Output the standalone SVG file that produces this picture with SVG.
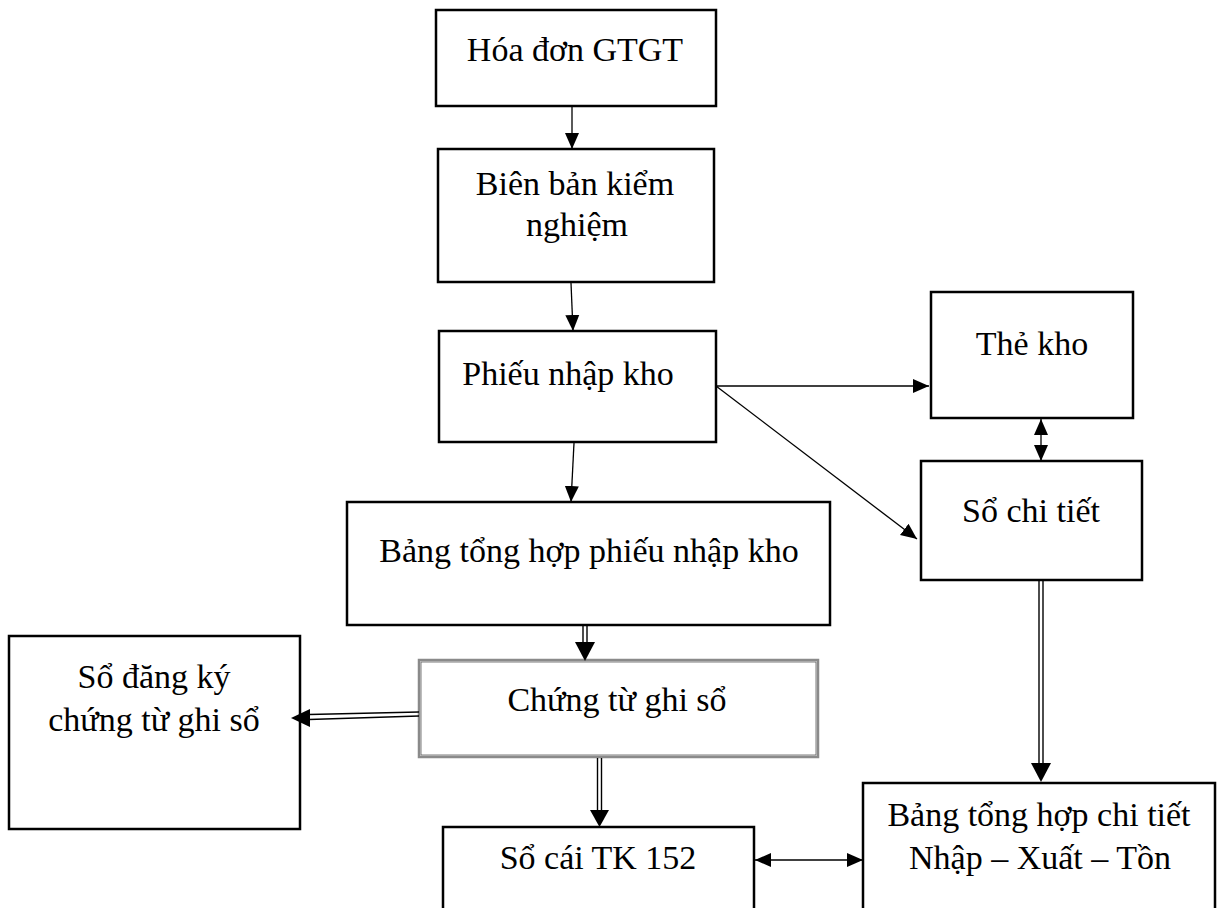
<svg xmlns="http://www.w3.org/2000/svg" width="1220" height="908" viewBox="0 0 1220 908">
<defs>
<style>
.box{fill:#fff;stroke:#000;stroke-width:2.5}
.t{font-family:"Liberation Serif","Times New Roman",serif;font-size:34px;fill:#000;text-anchor:middle}
.ln{stroke:#000;stroke-width:1.3;fill:none}
.dl{stroke:#000;stroke-width:1.4;fill:none}
.hd{fill:#000;stroke:none}
</style>
<marker id="ah" markerUnits="userSpaceOnUse" markerWidth="18" markerHeight="16" refX="16" refY="7" orient="auto" viewBox="0 0 18 14">
<path d="M0,0 L16,7 L0,14 Z" fill="#000"/>
</marker>
<marker id="as" markerUnits="userSpaceOnUse" markerWidth="18" markerHeight="16" refX="0" refY="7" orient="auto" viewBox="0 0 18 14">
<path d="M16,0 L0,7 L16,14 Z" fill="#000"/>
</marker>
</defs>
<rect width="1220" height="908" fill="#fff"/>

<g id="hoa-don">
<rect class="box" x="436" y="10" width="280" height="96"/>
<text class="t" x="575" y="61">Hóa đơn GTGT</text>
</g>
<g id="bien-ban">
<rect class="box" x="438" y="149" width="276" height="133"/>
<text class="t" x="575" y="195">Biên bản kiểm</text>
<text class="t" x="577" y="236">nghiệm</text>
</g>
<g id="phieu-nhap">
<rect class="box" x="439" y="331" width="277" height="111"/>
<text class="t" x="568" y="385">Phiếu nhập kho</text>
</g>
<g id="the-kho">
<rect class="box" x="931" y="292" width="202" height="126"/>
<text class="t" x="1032" y="355">Thẻ kho</text>
</g>
<g id="so-chi-tiet">
<rect class="box" x="921" y="461" width="221" height="119"/>
<text class="t" x="1031" y="522">Sổ chi tiết</text>
</g>
<g id="bang-tong-hop-pnk">
<rect class="box" x="347" y="502" width="483" height="123"/>
<text class="t" x="589" y="562">Bảng tổng hợp phiếu nhập kho</text>
</g>
<g id="chung-tu">
<rect x="419" y="660" width="399" height="97" fill="#fff" stroke="#8a8a8a" stroke-width="2.5"/>
<rect x="421" y="662" width="395" height="93" fill="none" stroke="#444" stroke-width="0.7"/>
<text class="t" x="617" y="711">Chứng từ ghi sổ</text>
</g>
<g id="so-dang-ky">
<rect class="box" x="9" y="636" width="291" height="193"/>
<text class="t" x="154" y="688">Sổ đăng ký</text>
<text class="t" x="154" y="731">chứng từ ghi sổ</text>
</g>
<g id="so-cai">
<path class="box" d="M443,915 L443,827 L754,827 L754,915"/>
<text class="t" x="598" y="869">Sổ cái TK 152</text>
</g>
<g id="bang-tong-hop-ct">
<path class="box" d="M863,915 L863,783 L1215,783 L1215,915"/>
<text class="t" x="1039" y="826">Bảng tổng hợp chi tiết</text>
<text class="t" x="1040" y="869">Nhập – Xuất – Tồn</text>
</g>

<g id="connectors">
<line class="ln" x1="572" y1="106" x2="572" y2="149" marker-end="url(#ah)"/>
<line class="ln" x1="571" y1="283" x2="573" y2="331" marker-end="url(#ah)"/>
<line class="ln" x1="574" y1="443" x2="571" y2="502" marker-end="url(#ah)"/>
<line class="ln" x1="716" y1="386" x2="929" y2="386" marker-end="url(#ah)"/>
<line class="ln" x1="716" y1="386" x2="917" y2="539" marker-end="url(#ah)"/>
<line class="ln" x1="1041" y1="419" x2="1041" y2="461" marker-start="url(#as)" marker-end="url(#ah)"/>
<line class="ln" x1="755" y1="860" x2="863" y2="860" marker-start="url(#as)" marker-end="url(#ah)"/>

<line class="dl" x1="583" y1="626" x2="583" y2="643"/>
<line class="dl" x1="587" y1="626" x2="587" y2="643"/>
<polygon class="hd" points="575,642 595,642 585,661"/>

<line class="dl" x1="597.5" y1="758" x2="597.5" y2="811"/>
<line class="dl" x1="601.5" y1="758" x2="601.5" y2="811"/>
<polygon class="hd" points="590,810 609,810 599.5,827"/>

<line class="dl" x1="1039" y1="581" x2="1039" y2="764"/>
<line class="dl" x1="1043" y1="581" x2="1043" y2="764"/>
<polygon class="hd" points="1031,763 1051,763 1041,782"/>

<line class="dl" x1="419" y1="712" x2="309" y2="714.5"/>
<line class="dl" x1="419" y1="716" x2="309" y2="719.5"/>
<polygon class="hd" points="310,709 310,727 291,718"/>
</g>
</svg>
